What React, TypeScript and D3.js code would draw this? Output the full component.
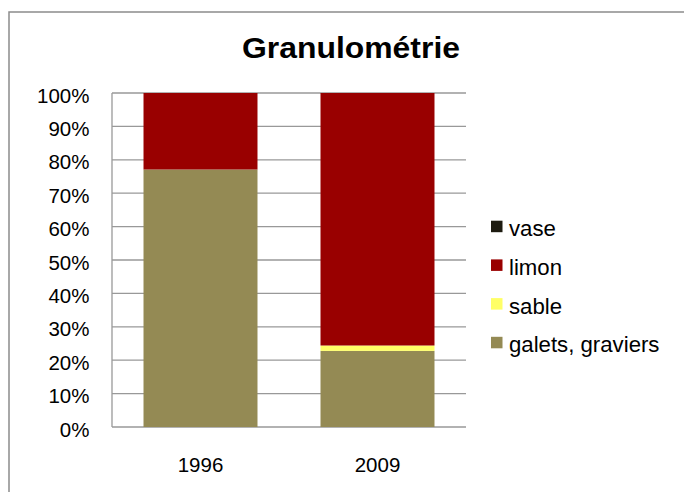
import React from "react";
import * as d3 from "d3";

const categories = ["1996", "2009"];
const seriesNames = ["galets, graviers", "sable", "limon", "vase"];
const galets = [77.1, 22.8];
const sable = [0, 1.6];
const limon = [22.9, 75.6];
const vase = [0, 0];
const colors = ["#948A54", "#FFFF66", "#990000", "#1D1B10"];
const yTicks = [0, 10, 20, 30, 40, 50, 60, 70, 80, 90, 100];

const W = 684;
const H = 492;
const plot = { left: 112, right: 466, top: 93, bottom: 427 };

export default function App() {
  const values = [galets, sable, limon, vase];
  const rows = categories.map((c, i) => {
    const r: any = { cat: c };
    seriesNames.forEach((s, k) => (r[s] = values[k][i]));
    return r;
  });
  const stack = d3.stack<any>().keys(seriesNames)(rows);
  const x = d3
    .scaleBand()
    .domain(categories)
    .range([plot.left, plot.right])
    .paddingInner(0.356)
    .paddingOuter(0.178);
  const y = d3.scaleLinear().domain([0, 100]).range([plot.bottom, plot.top]);
  const font = "Arial, 'Liberation Sans', sans-serif";
  const legendOrder = [3, 2, 1, 0];

  return (
    <svg
      width={W}
      height={H}
      style={{ position: "absolute", left: 0, top: 0, background: "#fff" }}
      fontFamily={font}
    >
      <rect x={9} y={12} width={W + 20} height={H + 20} fill="#fff" stroke="#8c8c8c" strokeWidth={1.5} />
      <text
        x={351}
        y={57.5}
        textAnchor="middle"
        fontSize={29}
        fontWeight="bold"
        textLength={218}
        lengthAdjust="spacingAndGlyphs"
        fill="#000"
      >
        Granulométrie
      </text>
      {yTicks.map((t) => (
        <g key={t}>
          <line x1={plot.left} x2={plot.right} y1={y(t)} y2={y(t)} stroke="#999" strokeWidth={1.3} />
          <text x={89.5} y={y(t) + 9.5} textAnchor="end" fontSize={20.5} fill="#000">
            {t}%
          </text>
        </g>
      ))}
      <line x1={plot.left} x2={plot.left} y1={plot.top} y2={plot.bottom} stroke="#999" strokeWidth={1.3} />
      {stack.map((layer, k) => (
        <g key={layer.key} fill={colors[k]}>
          {layer.map((d, i) => (
            <rect
              key={i}
              x={x(categories[i])}
              width={x.bandwidth()}
              y={y(d[1])}
              height={Math.max(0, y(d[0]) - y(d[1]))}
            />
          ))}
        </g>
      ))}
      {categories.map((c) => (
        <text key={c} x={(x(c) as number) + x.bandwidth() / 2} y={471.5} textAnchor="middle" fontSize={20.5} fill="#000">
          {c}
        </text>
      ))}
      {legendOrder.map((k, j) => (
        <g key={k} transform={`translate(491,${220.7 + j * 38.7})`}>
          <rect x={0} y={0} width={11.5} height={11.5} fill={colors[k]} />
          <text x={18} y={15.5} fontSize={22.2} fill="#000">
            {seriesNames[k]}
          </text>
        </g>
      ))}
    </svg>
  );
}
